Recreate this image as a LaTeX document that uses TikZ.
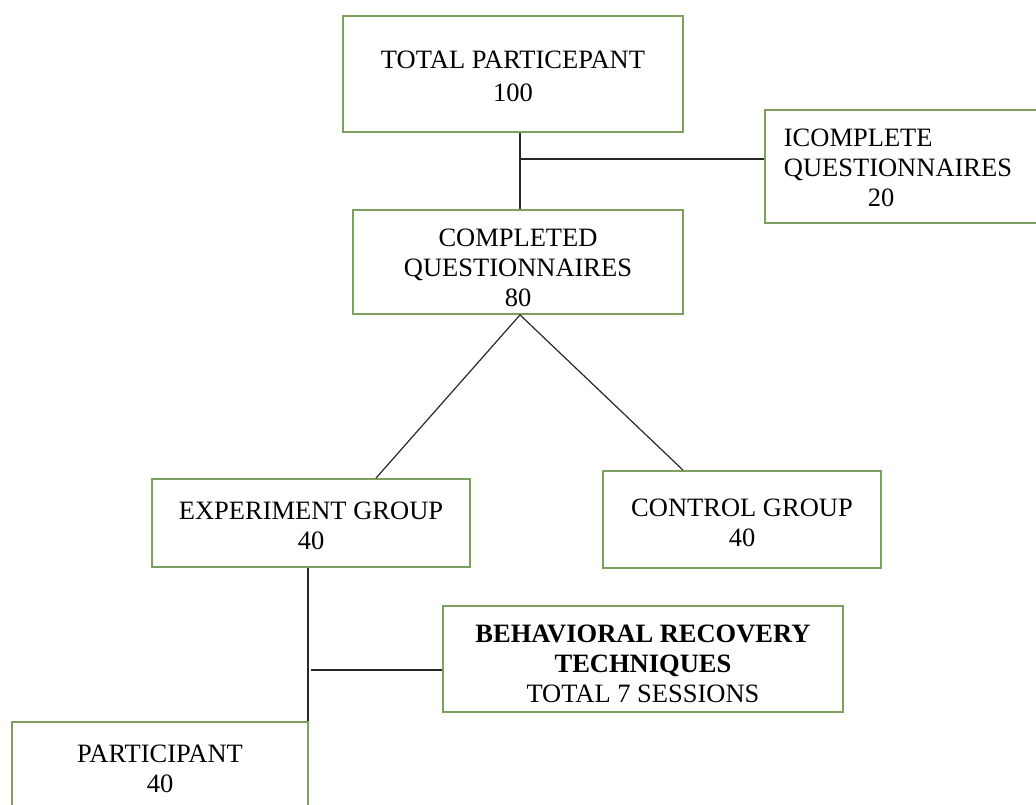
\documentclass[tikz,border=0pt]{standalone}
\usepackage{fontspec}
\setmainfont{Liberation Serif}
\definecolor{boxgreen}{RGB}{125,160,95}
\definecolor{linkgray}{RGB}{40,40,40}
\newcommand\mystrut[1]{\rule{0pt}{#1pt}}
\begin{document}
\begin{tikzpicture}[x=1pt,y=-1pt,
  box/.style={draw=boxgreen, line width=1.8pt, inner sep=0pt, align=center,
              font=\fontsize{26.5}{30}\selectfont},
  link/.style={draw=linkgray, line width=1.2pt}]
\useasboundingbox (0,0) rectangle (1036,805);
\clip (0,0) rectangle (1036,805);
\node[box, minimum width=340pt, minimum height=116pt, font=\fontsize{26.5}{33}\selectfont] (top) at (513,74) {\mystrut{22.6}TOTAL PARTICEPANT\\100};
\node[box, minimum width=330pt, minimum height=104pt] (comp) at (518,262) {\mystrut{30}COMPLETED\\QUESTIONNAIRES\\80};
\node[box, anchor=north west, minimum height=113pt, text width=270pt, inner xsep=19pt, align=left] (inc) at (764,109) {\mystrut{19.6}ICOMPLETE\\QUESTIONNAIRES\\\hspace*{84pt}20};
\node[box, minimum width=318pt, minimum height=88pt] (exp) at (311,523) {\mystrut{23.6}EXPERIMENT GROUP\\40};
\node[box, minimum width=278pt, minimum height=97pt] (ctrl) at (742,519.5) {\mystrut{23.6}CONTROL GROUP\\40};
\node[box, minimum width=400pt, minimum height=106pt] (beh) at (643,659) {\mystrut{26.6}\textbf{BEHAVIORAL RECOVERY}\\\textbf{TECHNIQUES}\\TOTAL 7 SESSIONS};
\node[box, minimum width=296pt, minimum height=92pt] (part) at (160,768) {\mystrut{19.6}PARTICIPANT\\40};
\coordinate (j1) at (520,159);
\draw[link] (j1 |- top.south) -- (j1 |- comp.north);
\draw[link] (j1) -- (inc.west |- j1);
\draw[link] (j1 |- comp.south) -- ([xshift=65pt]exp.north);
\draw[link] (j1 |- comp.south) -- ([xshift=-59pt]ctrl.north);
\coordinate (j2) at (308,670);
\draw[link] (j2 |- exp.south) -- (j2 |- part.north);
\draw[link] ([xshift=3pt]j2) -- (beh.west |- j2);
\end{tikzpicture}
\end{document}
